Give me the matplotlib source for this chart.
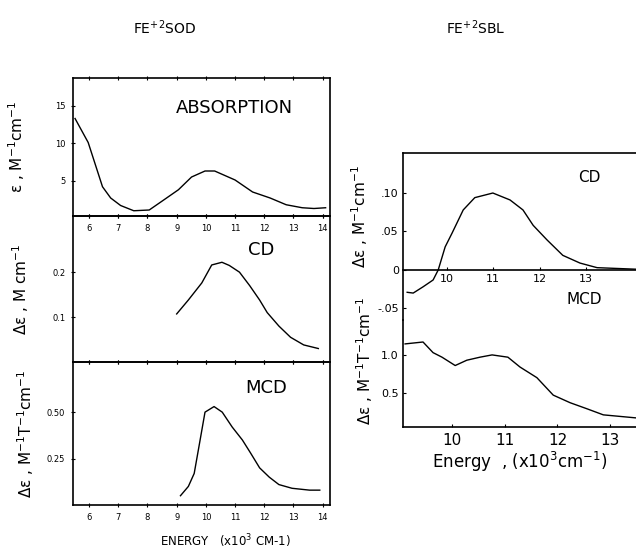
import numpy as np
import matplotlib
matplotlib.use('Agg')
import matplotlib.pyplot as plt

plt.rcParams['font.family'] = ['DejaVu Sans']
plt.rcParams['mathtext.default'] = 'regular'

# Fe+2 SOD : absorption
abs_e = [5.52, 5.97, 6.46, 6.74, 7.08, 7.53, 8.06, 8.58, 9.06, 9.51, 9.97, 10.3, 11.0, 11.6, 12.2, 12.75, 13.3, 13.7, 14.1]
abs_v = [13.3, 10.1, 4.2, 2.7, 1.7, 1.0, 1.1, 2.5, 3.8, 5.5, 6.3, 6.3, 5.1, 3.5, 2.7, 1.8, 1.4, 1.3, 1.4]

# Fe+2 SOD : CD
cd_e = [9.0, 9.4, 9.86, 10.2, 10.55, 10.8, 11.15, 11.5, 11.84, 12.1, 12.5, 12.9, 13.35, 13.85]
cd_v = [0.107, 0.138, 0.176, 0.216, 0.222, 0.215, 0.20, 0.17, 0.138, 0.11, 0.08, 0.055, 0.038, 0.030]

# Fe+2 SOD : MCD
mcd_e = [9.13, 9.4, 9.6, 9.78, 9.97, 10.28, 10.56, 10.9, 11.25, 11.53, 11.84, 12.17, 12.5, 12.95, 13.55, 13.9]
mcd_v = [0.05, 0.10, 0.17, 0.33, 0.50, 0.53, 0.50, 0.42, 0.35, 0.28, 0.20, 0.15, 0.11, 0.09, 0.08, 0.08]

# Fe+2 SBL : CD
sbl_cd_e = [9.14, 9.27, 9.48, 9.70, 9.81, 9.96, 10.11, 10.35, 10.6, 10.99, 11.36, 11.64, 11.86, 12.16, 12.5, 12.87, 13.24, 14.08]
sbl_cd_v = [-0.029, -0.030, -0.022, -0.013, 0.0, 0.030, 0.048, 0.078, 0.094, 0.100, 0.091, 0.078, 0.058, 0.039, 0.019, 0.009, 0.003, 0.001]

# Fe+2 SBL : MCD
sbl_mcd_e = [9.11, 9.45, 9.64, 9.81, 10.06, 10.28, 10.53, 10.76, 11.06, 11.29, 11.61, 11.92, 12.24, 12.56, 12.87, 13.49]
sbl_mcd_v = [1.145, 1.17, 1.03, 0.97, 0.86, 0.93, 0.97, 1.0, 0.97, 0.84, 0.70, 0.47, 0.37, 0.29, 0.21, 0.17]

e_ticks = [6, 7, 8, 9, 10, 11, 12, 13, 14]

W, H = 636, 549
fig = plt.figure(figsize=(6.36, 5.49), dpi=100)


def box(x0, y0, x1, y1):
    # pixel box (top-left origin) -> figure fraction
    return [x0 / W, 1 - y1 / H, (x1 - x0) / W, (y1 - y0) / H]


lw = 1.0
ax_mcd = fig.add_axes(box(73, 362, 330, 505))
ax_cd = fig.add_axes(box(73, 216, 330, 362))
ax_abs = fig.add_axes(box(73, 78, 330, 216))

for ax in (ax_abs, ax_cd, ax_mcd):
    ax.patch.set_alpha(0)
    ax.set_xlim(5.45, 14.25)
    for s in ax.spines.values():
        s.set_linewidth(1.2)
    ax.set_xticks(e_ticks)
    ax.tick_params(axis='both', direction='inout', length=3, width=0.8,
                   labelsize=6, pad=4)
    ax.tick_params(axis='x', top=True)

ax_abs.plot(abs_e, abs_v, color='black', lw=lw)
ax_abs.set_ylim(0.3, 18.7)
ax_abs.set_yticks([5, 10, 15])
ax_abs.set_ylabel('ε , M$^{-1}$cm$^{-1}$', fontsize=11)
ax_abs.yaxis.set_label_coords(-0.18, 0.5)
ax_abs.text(0.40, 0.78, 'ABSORPTION', transform=ax_abs.transAxes,
            fontsize=13, va='center')

ax_cd.plot(cd_e, cd_v, color='black', lw=lw)
ax_cd.set_ylim(0, 0.325)
ax_cd.set_yticks([0.1, 0.2])
ax_cd.set_yticklabels(['0.1', '0.2'])
ax_cd.tick_params(axis='x', labelbottom=False)
ax_cd.set_ylabel('Δε , M cm$^{-1}$', fontsize=11)
ax_cd.yaxis.set_label_coords(-0.165, 0.5)
ax_cd.text(0.68, 0.77, 'CD', transform=ax_cd.transAxes, fontsize=13, va='center')

ax_mcd.plot(mcd_e, mcd_v, color='black', lw=lw)
ax_mcd.set_ylim(0, 0.77)
ax_mcd.set_yticks([0.25, 0.50])
ax_mcd.set_yticklabels(['0.25', '0.50'])
ax_mcd.set_ylabel('Δε , M$^{-1}$T$^{-1}$cm$^{-1}$', fontsize=11)
ax_mcd.yaxis.set_label_coords(-0.145, 0.5)
ax_mcd.text(0.67, 0.82, 'MCD', transform=ax_mcd.transAxes, fontsize=13, va='center')
fig.text(225 / W, 1 - 541 / H, 'ENERGY   (x10$^{3}$ CM-1)', ha='center',
         va='center', fontsize=8.5)

# right block (Fe+2 SBL)
ax_r1 = fig.add_axes(box(403, 153, 636, 320))
ax_r2 = fig.add_axes(box(403, 320, 636, 427))

ax_r1.plot(sbl_cd_e, sbl_cd_v, color='black', lw=lw)
ax_r1.set_xlim(9.05, 14.08)
ax_r1.set_ylim(-0.065, 0.152)
ax_r1.spines['right'].set_visible(False)
ax_r1.spines['bottom'].set_position(('data', 0))
for s in ax_r1.spines.values():
    s.set_linewidth(1.2)
ax_r1.set_xticks([10, 11, 12, 13])
ax_r1.set_yticks([-0.05, 0, 0.05, 0.10])
ax_r1.set_yticklabels(['-.05', '0', '.05', '.10'])
ax_r1.tick_params(axis='both', direction='in', length=2, labelsize=8, pad=3)
ax_r1.set_ylabel('Δε , M$^{-1}$cm$^{-1}$', fontsize=11)
ax_r1.yaxis.set_label_coords(-0.14, 0.62)
ax_r1.text(0.75, 0.856, 'CD', transform=ax_r1.transAxes, fontsize=11, va='center')
ax_r1.text(0.70, 0.12, 'MCD', transform=ax_r1.transAxes, fontsize=11, va='center')

ax_r2.plot(sbl_mcd_e, sbl_mcd_v, color='black', lw=lw)
ax_r2.set_xlim(9.07, 13.49)
ax_r2.set_ylim(0.05, 1.46)
ax_r2.patch.set_alpha(0)
ax_r2.spines['right'].set_visible(False)
ax_r2.spines['top'].set_visible(False)
for s in ax_r2.spines.values():
    s.set_linewidth(1.2)
ax_r2.set_xticks([10, 11, 12, 13])
ax_r2.set_yticks([0.5, 1.0])
ax_r2.set_yticklabels(['0.5', '1.0'])
ax_r2.tick_params(axis='both', direction='in', length=2, labelsize=8, pad=3)
ax_r2.tick_params(axis='x', labelsize=11, pad=4)
ax_r2.set_ylabel('Δε , M$^{-1}$T$^{-1}$cm$^{-1}$', fontsize=11)
ax_r2.yaxis.set_label_coords(-0.12, 0.62)
ax_r2.set_xlabel('Energy  , (x10$^{3}$cm$^{-1}$)', fontsize=12, labelpad=2)

fig.text(165 / W, 1 - 28 / H, 'FE$^{+2}$SOD', ha='center', va='center', fontsize=10)
fig.text(476 / W, 1 - 28 / H, 'FE$^{+2}$SBL', ha='center', va='center', fontsize=10)

fig.savefig('out.png', dpi=100)
